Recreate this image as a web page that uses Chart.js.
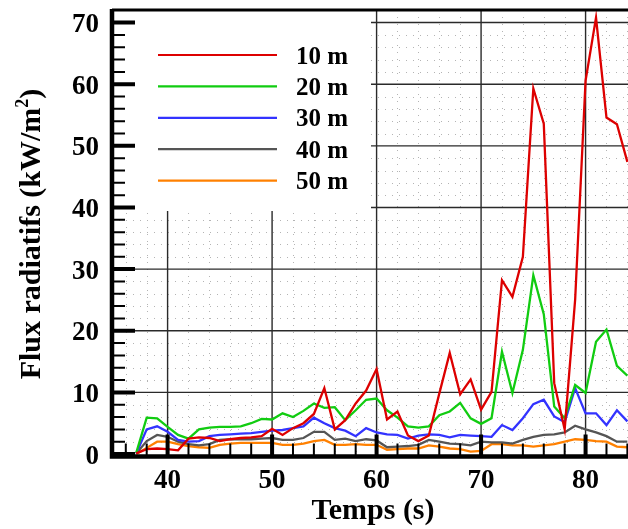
<!DOCTYPE html>
<html>
<head>
<meta charset="utf-8">
<script src="https://cdn.jsdelivr.net/npm/chart.js@4.4.1/dist/chart.umd.min.js"></script>
<style>
  html, body { margin: 0; padding: 0; background: #fff; }
  canvas { display: block; }
</style>
</head>
<body>
<canvas id="fluxChart" width="628" height="529"></canvas>
<script>
// Temps (s)
const times = [37, 38, 39, 40, 41, 42, 43, 44, 45, 46, 47, 48, 49, 50, 51, 52,
  53, 54, 55, 56, 57, 58, 59, 60, 61, 62, 63, 64, 65, 66, 67, 68, 69, 70, 71, 72,
  73, 74, 75, 76, 77, 78, 79, 80, 81, 82, 83, 84];

// Flux radiatifs (kW/m2) at each distance
const flux10 = [0.1, 0.8, 0.9, 0.8, 0.6, 2.5, 2.7, 2.6, 2.1, 2.4, 2.6, 2.7, 2.9, 4.1, 3.1, 4.2,
  5.0, 6.5, 10.7, 4.0, 5.5, 8.2, 10.3, 13.8, 5.6, 6.9, 3.0, 2.1, 3.0, 9.8, 16.4, 9.7, 12.1, 7.2, 10.1, 28.2,
  25.5, 32.0, 59.3, 53.6, 11.5, 4.0, 25.0, 60.6, 70.8, 54.6, 53.5, 47.4];
const flux20 = [0.2, 5.9, 5.8, 4.4, 3.1, 2.5, 4.0, 4.3, 4.4, 4.4, 4.5, 5.0, 5.7, 5.6, 6.6, 6.0,
  7.0, 8.2, 7.5, 7.6, 5.5, 7.1, 8.8, 9.0, 7.1, 5.9, 4.5, 4.3, 4.5, 6.3, 6.9, 8.3, 5.8, 4.9, 5.8, 16.6,
  9.9, 16.9, 29.0, 22.7, 7.7, 5.8, 11.2, 9.9, 18.2, 20.2, 14.3, 12.7];
const flux30 = [0.1, 4.0, 4.5, 3.6, 2.3, 2.0, 2.1, 2.9, 3.1, 3.2, 3.3, 3.4, 3.6, 3.8, 3.9, 4.2,
  4.5, 5.9, 5.0, 4.2, 3.8, 2.9, 4.2, 3.5, 3.2, 3.1, 2.5, 3.0, 3.2, 3.1, 2.7, 3.1, 3.0, 2.9, 2.8, 4.7,
  3.9, 5.8, 8.1, 8.8, 6.1, 5.2, 10.7, 6.6, 6.6, 4.7, 7.1, 5.3];
const flux40 = [0.1, 2.1, 3.1, 2.8, 2.0, 1.6, 1.4, 1.6, 2.3, 2.4, 2.4, 2.4, 2.5, 2.6, 2.3, 2.3,
  2.6, 3.6, 3.6, 2.3, 2.5, 2.1, 2.4, 2.2, 1.1, 1.2, 1.3, 1.5, 2.3, 2.0, 1.7, 1.6, 1.4, 2.0, 1.9, 1.9,
  1.7, 2.3, 2.8, 3.1, 3.2, 3.5, 4.6, 4.0, 3.5, 2.9, 2.0, 2.0];
const flux50 = [0.0, 1.0, 2.0, 2.0, 1.6, 1.3, 1.1, 1.0, 1.5, 1.7, 1.8, 1.8, 1.8, 1.8, 1.5, 1.5,
  1.7, 2.1, 2.3, 1.5, 1.5, 1.6, 1.5, 1.5, 0.7, 0.8, 0.9, 0.9, 1.4, 1.2, 0.9, 0.8, 0.4, 0.5, 1.6, 1.6,
  1.4, 1.4, 1.2, 1.4, 1.6, 2.0, 2.4, 2.3, 2.1, 2.0, 1.2, 1.1];

const seriesLabels = ['10 m', '20 m', '30 m', '40 m', '50 m'];
const seriesColors = ['#dd0000', '#11cc11', '#3333ff', '#555555', '#ff8000'];
const seriesData = [flux10, flux20, flux30, flux40, flux50];

// Axis tick labels
const xTicks = [40, 50, 60, 70, 80];
const yTicks = [0, 10, 20, 30, 40, 50, 60, 70];

const serif = '"Liberation Serif", "Times New Roman", serif';

// Grid, legend box, axes and labels drawn around the datasets
const framePlugin = {
  id: 'frame',
  beforeDatasetsDraw(chart) {
    const { ctx, chartArea: a, scales: { x, y } } = chart;
    ctx.save();

    // dotted minor grid every 2 units
    ctx.strokeStyle = '#b4b4b4';
    ctx.lineWidth = 1;
    ctx.setLineDash([1, 6]);
    for (let v = 36; v <= 84; v += 2) {
      if (v % 10 === 0) continue;
      const px = Math.round(x.getPixelForValue(v)) + 0.5;
      ctx.beginPath(); ctx.moveTo(px, a.top); ctx.lineTo(px, a.bottom); ctx.stroke();
    }
    for (let v = 2; v <= 70; v += 2) {
      if (v % 10 === 0) continue;
      const py = Math.round(y.getPixelForValue(v)) + 0.5;
      ctx.beginPath(); ctx.moveTo(a.left, py); ctx.lineTo(a.right, py); ctx.stroke();
    }
    ctx.setLineDash([]);

    // major grid
    ctx.strokeStyle = '#2a2a2a';
    ctx.lineWidth = 1.4;
    xTicks.forEach(v => {
      const px = x.getPixelForValue(v);
      ctx.beginPath(); ctx.moveTo(px, a.top); ctx.lineTo(px, a.bottom); ctx.stroke();
    });
    yTicks.slice(1).forEach(v => {
      const py = y.getPixelForValue(v);
      ctx.beginPath(); ctx.moveTo(a.left, py); ctx.lineTo(a.right, py); ctx.stroke();
    });

    // legend box (white, no border)
    ctx.fillStyle = '#fff';
    ctx.fillRect(a.left, a.top, 371 - a.left, 211 - a.top);

    ctx.font = 'bold 25px ' + serif;
    ctx.textAlign = 'left';
    ctx.textBaseline = 'alphabetic';
    seriesLabels.forEach((lab, i) => {
      const ly = 55 + i * 31.4;
      ctx.strokeStyle = seriesColors[i];
      ctx.lineWidth = 2.2;
      ctx.beginPath(); ctx.moveTo(158, ly); ctx.lineTo(277, ly); ctx.stroke();
      ctx.fillStyle = '#000';
      ctx.fillText(lab, 296, ly + 8.5);
    });
    ctx.restore();
  },
  afterDatasetsDraw(chart) {
    const { ctx, chartArea: a, scales: { x, y } } = chart;
    ctx.save();
    ctx.strokeStyle = '#000';

    // frame: left and bottom axes thick, thinner top edge
    ctx.lineWidth = 4.5;
    ctx.beginPath();
    ctx.moveTo(a.left, a.top - 1); ctx.lineTo(a.left, a.bottom + 2.2);
    ctx.moveTo(a.left - 2.2, a.bottom); ctx.lineTo(a.right, a.bottom);
    ctx.stroke();
    ctx.lineWidth = 2.8;
    ctx.beginPath(); ctx.moveTo(a.left, a.top); ctx.lineTo(a.right, a.top); ctx.stroke();

    // minor ticks (inward)
    ctx.lineWidth = 2;
    ctx.beginPath();
    for (let v = 36; v <= 84; v += 2) {
      if (v % 10 === 0) continue;
      const px = x.getPixelForValue(v);
      ctx.moveTo(px, a.bottom); ctx.lineTo(px, a.bottom - 13);
    }
    for (let v = 2; v <= 70; v += 2) {
      if (v % 10 === 0) continue;
      const py = y.getPixelForValue(v);
      ctx.moveTo(a.left, py); ctx.lineTo(a.left + 13, py);
    }
    ctx.stroke();

    // major ticks
    ctx.lineWidth = 4;
    ctx.beginPath();
    xTicks.forEach(v => {
      const px = x.getPixelForValue(v);
      ctx.moveTo(px, a.bottom); ctx.lineTo(px, a.bottom - 22);
    });
    yTicks.forEach(v => {
      const py = y.getPixelForValue(v);
      ctx.moveTo(a.left, py); ctx.lineTo(a.left + 23, py);
    });
    ctx.stroke();

    // tick labels
    ctx.fillStyle = '#000';
    ctx.font = 'bold 27px ' + serif;
    ctx.textBaseline = 'alphabetic';
    ctx.textAlign = 'right';
    yTicks.forEach(v => ctx.fillText(String(v), 99, y.getPixelForValue(v) + 9.5));
    ctx.textAlign = 'center';
    xTicks.forEach(v => ctx.fillText(String(v), x.getPixelForValue(v), 488));

    // axis titles
    ctx.font = 'bold 30px ' + serif;
    ctx.fillText('Temps (s)', 373, 519);

    ctx.translate(40, 234);
    ctx.rotate(-Math.PI / 2);
    const main = 'Flux radiatifs (kW/m';
    ctx.font = 'bold 30px ' + serif;
    const wMain = ctx.measureText(main).width;
    const wClose = ctx.measureText(')').width;
    ctx.font = 'bold 18px ' + serif;
    const wSup = ctx.measureText('2').width;
    let cx = -(wMain + wSup + wClose) / 2;
    ctx.textAlign = 'left';
    ctx.font = 'bold 30px ' + serif;
    ctx.fillText(main, cx, 0);
    cx += wMain;
    ctx.font = 'bold 18px ' + serif;
    ctx.fillText('2', cx, -12);
    cx += wSup;
    ctx.font = 'bold 30px ' + serif;
    ctx.fillText(')', cx, 0);
    ctx.restore();
  }
};

const ctx = document.getElementById('fluxChart').getContext('2d');
new Chart(ctx, {
  type: 'line',
  data: {
    datasets: seriesLabels.map((lab, i) => ({
      label: lab,
      data: times.map((t, k) => ({ x: t, y: seriesData[i][k] })),
      borderColor: seriesColors[i],
      borderWidth: 2.3,
      pointRadius: 0,
      tension: 0,
      fill: false
    }))
  },
  options: {
    responsive: false,
    animation: false,
    devicePixelRatio: 1,
    layout: { padding: { left: 112, top: 10, right: 0, bottom: 72.5 } },
    scales: {
      x: { type: 'linear', min: 34.68, max: 84.06, display: false },
      y: { type: 'linear', min: -0.4, max: 72.04, display: false }
    },
    plugins: {
      legend: { display: false },
      tooltip: { enabled: false }
    }
  },
  plugins: [framePlugin]
});
</script>
</body>
</html>
